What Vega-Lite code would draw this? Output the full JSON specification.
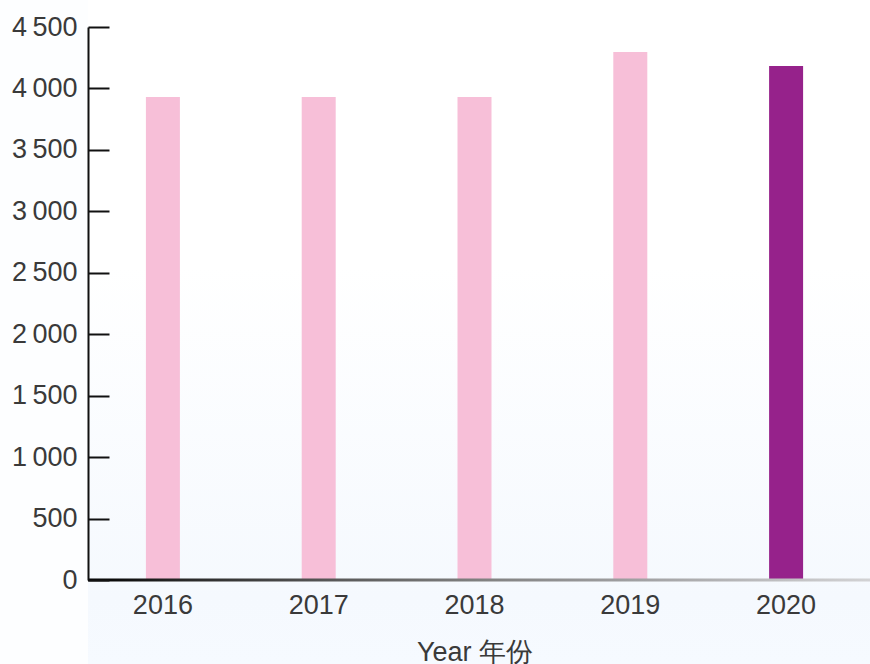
{
  "$schema": "https://vega.github.io/schema/vega-lite/v6.json",
  "width": 782,
  "height": 553,
  "padding": {"left": 88, "top": 27, "right": 0, "bottom": 84},
  "autosize": {"type": "none"},
  "background": "#fdfeff",
  "config": {"view": {"stroke": null}},
  "data": {"values": [
    {"year": "2016", "value": 3930, "highlight": "no"},
    {"year": "2017", "value": 3930, "highlight": "no"},
    {"year": "2018", "value": 3930, "highlight": "no"},
    {"year": "2019", "value": 4296, "highlight": "no"},
    {"year": "2020", "value": 4182, "highlight": "yes"}
  ]},
  "layer": [
    {
      "data": {"values": [{"top": 4720, "bottom": -690}]},
      "mark": {"type": "rect", "clip": false, "fill": {"gradient": "linear", "x1": 0, "y1": 0, "x2": 0, "y2": 1, "stops": [{"offset": 0, "color": "#ffffff"}, {"offset": 0.4, "color": "#ffffff"}, {"offset": 0.9, "color": "#f5f9fe"}, {"offset": 1, "color": "#f6faff"}]}},
      "encoding": {
        "y": {"field": "top", "type": "quantitative", "title": null, "scale": {"domain": [0, 4500]}},
        "y2": {"field": "bottom"}
      }
    },
    {
      "mark": {"type": "bar", "size": 34},
      "encoding": {
        "x": {"field": "year", "type": "nominal", "title": "Year 年份",
          "scale": {"range": [-3, 776], "paddingInner": 0, "paddingOuter": 0},
          "axis": {"zindex": 1, "labelAngle": 0, "ticks": false, "domain": false, "labelFont": "Liberation Sans", "labelFontSize": 27, "labelColor": "#3a3a3a", "labelPadding": 12,
            "titleFont": "Liberation Sans", "titleFontSize": 27, "titleFontWeight": "normal", "titleColor": "#3a3a3a", "titlePadding": 21}},
        "y": {"field": "value", "type": "quantitative", "title": null, "scale": {"domain": [0, 4500]},
          "axis": {"zindex": 1, "values": [0, 500, 1000, 1500, 2000, 2500, 3000, 3500, 4000, 4500], "grid": false,
            "labelExpr": "replace(format(datum.value, ','), ',', '\u2009')",
            "labelFont": "Liberation Sans", "labelFontSize": 27, "labelColor": "#3a3a3a",
            "domainColor": "#111111", "domainWidth": 2, "tickColor": "#111111", "tickWidth": 2, "tickSize": -21, "labelPadding": 32}},
        "color": {"field": "highlight", "type": "nominal", "legend": null,
          "scale": {"domain": ["no", "yes"], "range": ["#f7bfd8", "#96228b"]}}
      }
    },
    {
      "data": {"values": [{"a": 12, "b": -12}]},
      "mark": {"type": "rect", "clip": false, "fill": {"gradient": "linear", "x1": 0, "y1": 0, "x2": 1, "y2": 0, "stops": [{"offset": 0, "color": "#000000"}, {"offset": 0.1, "color": "#222222"}, {"offset": 0.3, "color": "#555555"}, {"offset": 0.5, "color": "#808080"}, {"offset": 0.7, "color": "#a0a0a2"}, {"offset": 0.9, "color": "#c2c2c4"}, {"offset": 1, "color": "#d2d2d4"}]}},
      "encoding": {
        "y": {"field": "a", "type": "quantitative"},
        "y2": {"field": "b"}
      }
    }
  ]
}
